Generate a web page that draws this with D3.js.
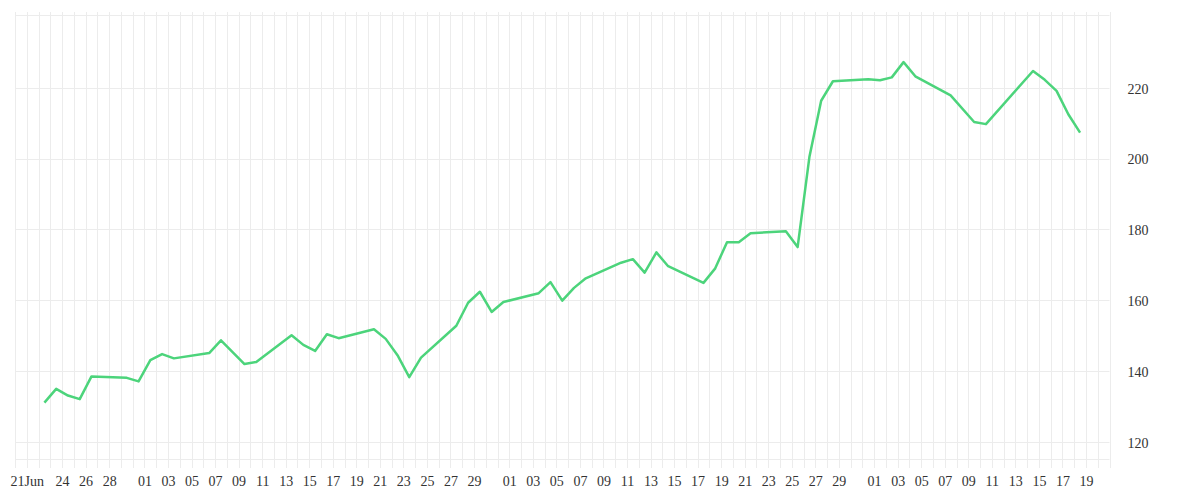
<!DOCTYPE html>
<html>
<head>
<meta charset="utf-8">
<script src="https://cdn.jsdelivr.net/npm/d3@7/dist/d3.min.js"></script>
<style>
  html, body { margin: 0; padding: 0; background: #fff; }
  svg { display: block; }
  text { font-family: "Liberation Serif", "DejaVu Serif", serif; font-size: 14px; fill: #333; }
</style>
</head>
<body>
<svg id="chart" width="1200" height="500"></svg>
<script>
// ---- data ----
const dates = [
  "2020-06-22","2020-06-23","2020-06-24","2020-06-25","2020-06-26",
  "2020-06-29","2020-06-30","2020-07-01","2020-07-02","2020-07-03",
  "2020-07-06","2020-07-07","2020-07-09","2020-07-10",
  "2020-07-13","2020-07-14","2020-07-15","2020-07-16","2020-07-17",
  "2020-07-20","2020-07-21","2020-07-22","2020-07-23","2020-07-24",
  "2020-07-27","2020-07-28","2020-07-29","2020-07-30","2020-07-31",
  "2020-08-03","2020-08-04","2020-08-05","2020-08-06","2020-08-07",
  "2020-08-10","2020-08-11","2020-08-12","2020-08-13","2020-08-14",
  "2020-08-17","2020-08-18","2020-08-19","2020-08-20","2020-08-21",
  "2020-08-24","2020-08-25","2020-08-26","2020-08-27","2020-08-28",
  "2020-08-31","2020-09-01","2020-09-02","2020-09-03","2020-09-04",
  "2020-09-07","2020-09-09","2020-09-10",
  "2020-09-14","2020-09-15","2020-09-16","2020-09-17","2020-09-18"
];
const prices = [
  131.1,135.0,133.1,132.1,138.5,
  138.1,137.1,143.1,144.8,143.6,
  145.1,148.7,142.0,142.6,
  150.1,147.4,145.7,150.4,149.3,
  151.8,149.1,144.5,138.3,143.8,
  152.8,159.3,162.4,156.7,159.5,
  162.0,165.1,159.9,163.5,166.2,
  170.6,171.6,167.8,173.5,169.6,
  164.9,169.0,176.4,176.4,178.9,
  179.5,175.0,200.4,216.3,221.8,
  222.4,222.1,222.9,227.2,223.2,
  217.8,210.3,209.7,
  224.7,222.2,219.1,212.5,207.3
];
const xDomain = ["2020-06-20", "2020-09-21"];
const yDomain = [115.2, 240.5];
const yTicks = [120, 140, 160, 180, 200, 220];
const xTickDates = [
  "2020-06-21","2020-06-24","2020-06-26","2020-06-28",
  "2020-07-01","2020-07-03","2020-07-05","2020-07-07","2020-07-09","2020-07-11",
  "2020-07-13","2020-07-15","2020-07-17","2020-07-19","2020-07-21","2020-07-23",
  "2020-07-25","2020-07-27","2020-07-29",
  "2020-08-01","2020-08-03","2020-08-05","2020-08-07","2020-08-09","2020-08-11",
  "2020-08-13","2020-08-15","2020-08-17","2020-08-19","2020-08-21","2020-08-23",
  "2020-08-25","2020-08-27","2020-08-29",
  "2020-09-01","2020-09-03","2020-09-05","2020-09-07","2020-09-09","2020-09-11",
  "2020-09-13","2020-09-15","2020-09-17","2020-09-19"
];
const xTickLabels = [
  "21Jun","24","26","28",
  "01","03","05","07","09","11","13","15","17","19","21","23","25","27","29",
  "01","03","05","07","09","11","13","15","17","19","21","23","25","27","29",
  "01","03","05","07","09","11","13","15","17","19"
];

(function () {
  const parse = d3.timeParse("%Y-%m-%d");
  const mLeft = 15, mRight = 1109.5, mTop = 15, mBottom = 459;
  const svg = d3.select("#chart");

  const x = d3.scaleTime().domain(xDomain.map(parse)).range([mLeft, mRight]);
  const y = d3.scaleLinear().domain(yDomain).range([mBottom, mTop]);

  const grid = svg.append("g").attr("stroke", "#ececec").attr("stroke-width", 1);

  // vertical daily gridlines (extending below the frame as ticks)
  const days = d3.timeDay.range(parse(xDomain[0]), d3.timeDay.offset(parse(xDomain[1]), 1));
  grid.selectAll("line.v").data(days).join("line")
    .attr("class", "v")
    .attr("x1", d => Math.round(x(d)) + 0.5).attr("x2", d => Math.round(x(d)) + 0.5)
    .attr("y1", mTop - 3).attr("y2", mBottom + 9);

  // horizontal gridlines + frame lines
  const hVals = [yDomain[0], ...yTicks, yDomain[1]];
  grid.selectAll("line.h").data(hVals).join("line")
    .attr("class", "h")
    .attr("x1", mLeft).attr("x2", mRight)
    .attr("y1", d => Math.round(y(d)) + 0.5).attr("y2", d => Math.round(y(d)) + 0.5);

  // x axis labels
  const xAxis = d3.axisBottom(x)
    .tickValues(xTickDates.map(parse))
    .tickFormat((d, i) => xTickLabels[i])
    .tickSize(0).tickPadding(0);
  const gx = svg.append("g").attr("transform", `translate(0,${mBottom + 17})`).call(xAxis);
  gx.select(".domain").remove();
  gx.selectAll("text").attr("fill", "#333").style("font-size", "14px")
    .style("font-family", '"Liberation Serif", serif');

  // y axis labels (right side)
  const yAxis = d3.axisRight(y).tickValues(yTicks).tickSize(0).tickPadding(0);
  const gy = svg.append("g").attr("transform", `translate(${mRight + 18},1)`).call(yAxis);
  gy.select(".domain").remove();
  gy.selectAll("text").attr("fill", "#333").style("font-size", "14px")
    .style("font-family", '"Liberation Serif", serif');

  // price line (points at mid-day)
  const pts = dates.map((d, i) => ({ t: d3.timeHour.offset(parse(d), 12), v: prices[i] }));
  const line = d3.line().x(d => x(d.t)).y(d => y(d.v));
  svg.append("path").datum(pts)
    .attr("fill", "none")
    .attr("stroke", "#4cd47b")
    .attr("stroke-width", 2.5)
    .attr("stroke-linejoin", "round")
    .attr("d", line);
})();
</script>
</body>
</html>
